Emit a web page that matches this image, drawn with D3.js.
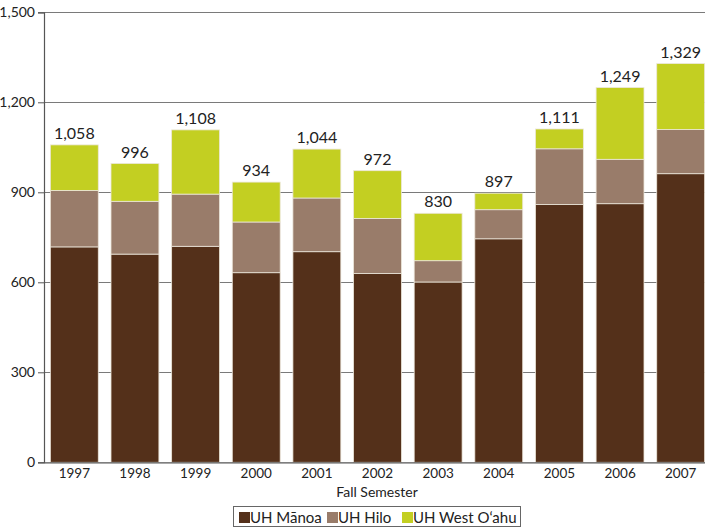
<!DOCTYPE html>
<html><head><meta charset="utf-8">
<script src="https://cdn.jsdelivr.net/npm/d3@7"></script>
<style>body{margin:0;background:#fff}svg{display:block}text{font-family:Lato,"Open Sans",sans-serif;fill:#222}</style>
</head><body>
<script>
const years = ["1997","1998","1999","2000","2001","2002","2003","2004","2005","2006","2007"];
const manoa = [718,694,720,632,702,629,601,745,859,862,962];
const hilo  = [188,176,174,169,179,184,71,97,186,148,147];
const westOahu = [152,126,214,133,163,159,158,55,66,239,220];
const totals = ["1,058","996","1,108","934","1,044","972","830","897","1,111","1,249","1,329"];
const seriesNames = ["UH Mānoa","UH Hilo","UH West O‘ahu"];
const colors = ["#54301a","#997c6a","#c3cf22"];
const yTicks = [0,300,600,900,1200,1500];

const W=705,H=531;
const svg=d3.select("body").append("svg").attr("width",W).attr("height",H);
const x=d3.scaleBand().domain(years).range([44,711]).paddingInner(0.21).paddingOuter(0.105);
const y=d3.scaleLinear().domain([0,1500]).range([462.3,12.3]);

const rows=years.map((yr,i)=>({year:yr,m:manoa[i],h:hilo[i],w:westOahu[i]}));
const stack=d3.stack().keys(["m","h","w"])(rows);

// gridlines
svg.append("g").selectAll("line").data(yTicks.filter(d=>d>0)).join("line")
 .attr("x1",44).attr("x2",W).attr("y1",d=>Math.round(y(d))+0.5).attr("y2",d=>Math.round(y(d))+0.5)
 .attr("stroke","#7a7a7a").attr("stroke-width",1.2);

// bars
stack.forEach((s,k)=>{
 svg.append("g").selectAll("rect").data(s).join("rect")
  .attr("x",d=>x(d.data.year)).attr("width",x.bandwidth())
  .attr("y",d=>y(d[1])).attr("height",d=>y(d[0])-y(d[1]))
  .attr("fill",colors[k]).attr("stroke","#ece6da").attr("stroke-width",0.8);
});

// totals
svg.append("g").selectAll("text").data(rows).join("text")
 .attr("x",d=>x(d.year)+x.bandwidth()/2).attr("y",d=>y(d.m+d.h+d.w)-6)
 .attr("text-anchor","middle").attr("font-size",16).text((d,i)=>totals[i]);

// y axis
const ya=svg.append("g").attr("transform","translate(44,0)")
 .call(d3.axisLeft(y).tickValues(yTicks).tickFormat(d3.format(",")).tickSize(6).tickPadding(3));
ya.select(".domain").attr("stroke","#555").attr("stroke-width",1.2);
ya.selectAll(".tick line").attr("stroke","#555");
ya.selectAll("text").attr("font-size",14).style("font-family","Lato,sans-serif").attr("fill","#222");

// x axis
const xa=svg.append("g").attr("transform","translate(0,462.3)")
 .call(d3.axisBottom(x).tickSize(0).tickPadding(6));
xa.select(".domain").attr("stroke","#555").attr("stroke-width",1.2);
xa.selectAll("text").attr("font-size",13.5).style("font-family","Lato,sans-serif").attr("fill","#222");

svg.append("text").attr("x",377).attr("y",497).attr("text-anchor","middle").attr("font-size",14).text("Fall Semester");

// legend
const lg=svg.append("g");
lg.append("rect").attr("x",233.5).attr("y",506.5).attr("width",287).attr("height",20).attr("fill","#fff").attr("stroke","#666");
const lx=[239,327,402];
seriesNames.forEach((n,i)=>{
 lg.append("rect").attr("x",lx[i]).attr("y",512).attr("width",11).attr("height",11).attr("fill",colors[i]);
 lg.append("text").attr("x",lx[i]+11).attr("y",522.5).attr("font-size",15).text(n);
});
</script>
</body></html>
